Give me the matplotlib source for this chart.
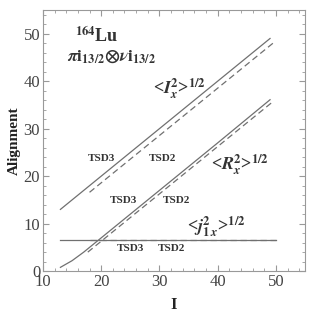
import numpy as np
import matplotlib.pyplot as plt
from matplotlib.ticker import MultipleLocator

plt.rcParams['font.family'] = ['Liberation Serif', 'DejaVu Serif']
plt.rcParams['mathtext.fontset'] = 'stix'

# <I_x^2>^1/2
ix_I = [13, 49]
ix_solid = [13, 49]
ix_dash_I = [18, 49.5]
ix_dash = [16.6, 48.0]

# <R_x^2>^1/2
rx_I = [13, 15, 17, 20, 25, 30, 40, 49]
rx_solid = [0.8, 2.2, 4.0, 7.0, 12.0, 17.0, 27.0, 36.1]
rx_dash_I = [17.7, 49.3]
rx_dash = [4.0, 35.5]

# <j_1x^2>^1/2
jx_I = [13, 50]
jx_solid = [6.5, 6.5]
jx_dash_I = [18, 50]
jx_dash = [6.5, 6.5]

tsd_labels = ['TSD3', 'TSD2', 'TSD3', 'TSD2', 'TSD3', 'TSD2']
tsd_x = [20.0, 30.6, 23.9, 33.0, 25.0, 32.0]
tsd_y = [23.7, 23.7, 14.9, 14.9, 4.8, 4.8]

fig = plt.figure(figsize=(3.09, 3.12), dpi=100)
ax = fig.add_axes([0.139, 0.131, 0.848, 0.837])

lc = '#707070'
ax.plot(ix_I, ix_solid, '-', color=lc, lw=0.9)
ax.plot(ix_dash_I, ix_dash, '--', color=lc, lw=0.9, dashes=(5, 3))
ax.plot(rx_I, rx_solid, '-', color=lc, lw=0.9)
ax.plot(rx_dash_I, rx_dash, '--', color=lc, lw=0.9, dashes=(5, 3))
ax.plot(jx_dash_I, jx_dash, '--', color=lc, lw=0.9, dashes=(5, 3))
ax.plot(jx_I, jx_solid, '-', color=lc, lw=0.9)

tc = '#333333'
for lab, x, y in zip(tsd_labels, tsd_x, tsd_y):
    ax.text(x, y, lab, fontsize=8, fontweight='bold', color=tc, ha='center', va='center')

ax.text(19.2, 49.6, r'$^{\mathbf{164}}$Lu', fontsize=13, fontweight='bold', color=tc, ha='center', va='center')
ax.text(21.8, 45.2, r'$\boldsymbol{\pi}\mathbf{i}_{\mathbf{13/2}}\mathbf{\otimes}\boldsymbol{\nu}\mathbf{i}_{\mathbf{13/2}}$',
        fontsize=12.5, color=tc, ha='center', va='center')
ax.text(33.5, 38.3, r'<$\boldsymbol{I}_{\boldsymbol{x}}^{\mathbf{2}}$>$^{\mathbf{1/2}}$', fontsize=13,
        fontweight='bold', color=tc, ha='center', va='center')
ax.text(43.8, 22.3, r'<$\boldsymbol{R}_{\boldsymbol{x}}^{\mathbf{2}}$>$^{\mathbf{1/2}}$', fontsize=13,
        fontweight='bold', color=tc, ha='center', va='center')
ax.text(39.8, 9.3, r'<$\boldsymbol{j}_{\mathbf{1}\,\boldsymbol{x}}^{\mathbf{2}}$>$^{\mathbf{1/2}}$', fontsize=13,
        fontweight='bold', color=tc, ha='center', va='center')

ax.set_xlim(10, 55)
ax.set_ylim(0, 55)
ax.xaxis.set_major_locator(MultipleLocator(10))
ax.xaxis.set_minor_locator(MultipleLocator(2))
ax.yaxis.set_major_locator(MultipleLocator(10))
ax.yaxis.set_minor_locator(MultipleLocator(2))
ax.tick_params(which='both', direction='in', top=True, right=True, color='#999999',
               labelsize=12, labelcolor='#444444', pad=2)
ax.tick_params(which='major', length=4)
ax.tick_params(which='minor', length=2)
for s in ax.spines.values():
    s.set_color('#999999')
    s.set_linewidth(0.8)

ax.set_xlabel('I', fontsize=12, fontweight='bold', color='#222222', labelpad=5)
ax.set_ylabel('Alignment', fontsize=11, fontweight='bold', color='#222222', labelpad=2)

fig.savefig('out.png', dpi=100)
